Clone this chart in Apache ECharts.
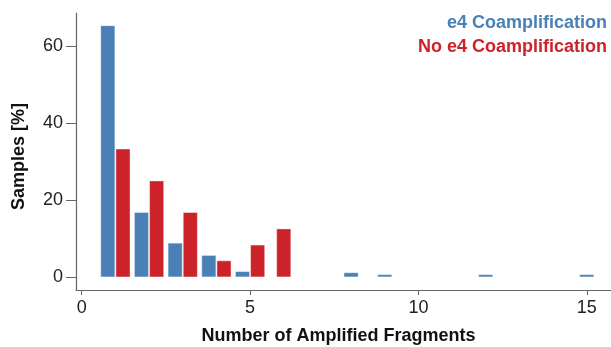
<!DOCTYPE html>
<html>
<head>
<meta charset="utf-8">
<script src="https://cdn.jsdelivr.net/npm/echarts@6/dist/echarts.min.js"></script>
<style>
html,body{margin:0;padding:0;background:#fff;}
#chart{width:611px;height:347px;}
</style>
</head>
<body>
<div id="chart"></div>
<script>
// Data
const seriesNames = ['e4 Coamplification', 'No e4 Coamplification'];
const blueX = [1, 2, 3, 4, 5, 8, 9, 12, 15];
const blueY = [65.4, 16.8, 8.8, 5.6, 1.4, 1.1, 0.6, 0.6, 0.6];
const redX = [1, 2, 3, 4, 5, 6];
const redY = [33.3, 25.0, 16.8, 4.2, 8.3, 12.5];
const xTicks = [0, 5, 10, 15];
const yTicks = [0, 20, 40, 60];

const BLUE = '#4a80b6';
const RED = '#cc2229';
const FONT = '"Liberation Sans", Arial, Helvetica, sans-serif';

function makeRender(ownX, otherX, side) {
  return function (params, api) {
    const x = api.value(0), y = api.value(1);
    const both = otherX.indexOf(x) >= 0;
    const cx = both ? x + side * 0.225 : x;
    const p0 = api.coord([cx - 0.21, 0]);
    const p1 = api.coord([cx + 0.21, y]);
    return {
      type: 'rect',
      shape: { x: p0[0], y: p1[1], width: p1[0] - p0[0], height: p0[1] - p1[1] },
      style: { fill: api.visual('color'), stroke: 'rgba(255,255,255,0.55)', lineWidth: 0.8 }
    };
  };
}

const chart = echarts.init(document.getElementById('chart'), null, { renderer: 'canvas' });
chart.setOption({
  animation: false,
  backgroundColor: '#fff',
  textStyle: { fontFamily: FONT },
  grid: { left: 76, right: 0, top: 13, bottom: 57, containLabel: false, outerBoundsMode: 'none' },
  legend: {
    orient: 'vertical',
    right: -1,
    top: 14,
    padding: 0,
    align: 'right',
    icon: 'none',
    itemWidth: 0,
    itemHeight: 18,
    itemGap: 6,
    selectedMode: false,
    data: [
      { name: seriesNames[0], textStyle: { color: BLUE } },
      { name: seriesNames[1], textStyle: { color: RED } }
    ],
    textStyle: { fontSize: 18, fontWeight: 'bold', fontFamily: FONT, padding: 0 }
  },
  xAxis: {
    type: 'value',
    min: -0.17,
    max: 15.72,
    splitLine: { show: false },
    axisLine: { show: true, onZero: false, lineStyle: { color: '#666', width: 1.2 } },
    axisTick: { show: true, length: 5, customValues: xTicks, lineStyle: { color: '#666' } },
    axisLabel: { customValues: xTicks, fontSize: 18, color: '#222', margin: 9, fontFamily: FONT },
    name: 'Number of Amplified Fragments',
    nameLocation: 'middle',
    nameGap: 37,
    nameTextStyle: { fontSize: 18, fontWeight: 'bold', color: '#111', fontFamily: FONT, padding: [0, 10, 0, 0] }
  },
  yAxis: {
    type: 'value',
    min: -3.4,
    max: 68.7,
    splitLine: { show: false },
    axisLine: { show: true, onZero: false, lineStyle: { color: '#666', width: 1.2 } },
    axisTick: { show: true, length: 10, customValues: yTicks, lineStyle: { color: '#666' } },
    axisLabel: { customValues: yTicks, fontSize: 18, color: '#222', margin: 13, fontFamily: FONT },
    name: 'Samples [%]',
    nameLocation: 'middle',
    nameGap: 48,
    nameTextStyle: { fontSize: 18, fontWeight: 'bold', color: '#111', fontFamily: FONT, padding: [0, 10, 0, 0] }
  },
  series: [
    {
      name: seriesNames[0],
      type: 'custom',
      color: BLUE,
      itemStyle: { color: BLUE },
      renderItem: makeRender(blueX, redX, -1),
      data: blueX.map((x, i) => [x, blueY[i]]),
      encode: { x: 0, y: 1 }
    },
    {
      name: seriesNames[1],
      type: 'custom',
      color: RED,
      itemStyle: { color: RED },
      renderItem: makeRender(redX, blueX, 1),
      data: redX.map((x, i) => [x, redY[i]]),
      encode: { x: 0, y: 1 }
    }
  ]
});
</script>
</body>
</html>
